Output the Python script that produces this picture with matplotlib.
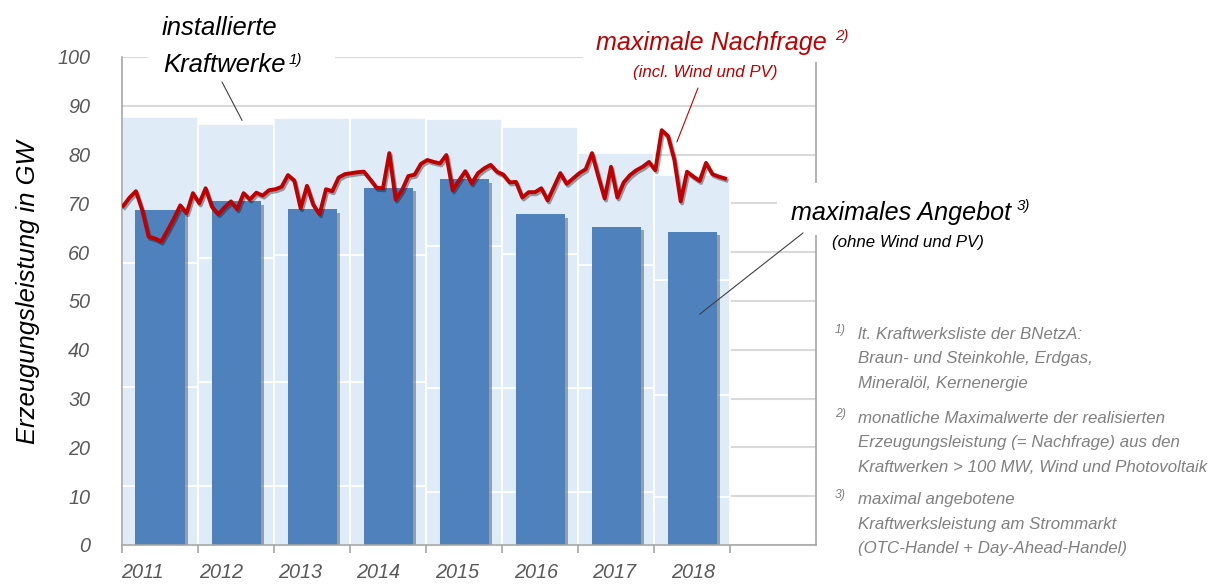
import numpy as np
import matplotlib
matplotlib.use('Agg')
import matplotlib.pyplot as plt
import matplotlib.patheffects as pe
from matplotlib import font_manager
from matplotlib.patches import Rectangle, ConnectionPatch

# Daten (GW)
jahre = ['2011', '2012', '2013', '2014', '2015', '2016', '2017', '2018']

# installierte Kraftwerke, gestapelt
kernenergie = [12.1, 12.1, 12.1, 12.1, 10.9, 10.9, 10.9, 9.8]
braunkohle = [20.3, 21.4, 21.4, 21.2, 21.3, 21.2, 21.2, 20.9]
steinkohle = [25.3, 25.4, 25.9, 26.2, 29.1, 27.5, 25.3, 23.6]
erdgas_oel = [30.1, 27.4, 28.0, 28.0, 26.0, 26.1, 23.0, 21.5]

# maximales Angebot (ohne Wind und PV)
angebot = [68.6, 70.4, 68.8, 73.2, 74.9, 67.8, 65.2, 64.2]

# maximale Nachfrage je Monat (incl. Wind und PV)
nachfrage = [
    69.5, 71.2, 72.5, 68.6, 63.2, 62.8, 62.2, 64.5, 66.9, 69.6, 68.0, 72.1,
    70.0, 73.1, 69.3, 67.8, 69.2, 70.4, 68.8, 72.1, 70.8, 72.2, 71.6, 72.7,
    72.9, 73.4, 75.8, 74.7, 69.0, 73.6, 69.7, 67.8, 72.9, 72.5, 75.3, 76.0,
    76.2, 76.4, 76.5, 74.9, 73.2, 73.1, 80.3, 70.8, 72.7, 75.6, 75.9, 78.1,
    78.9, 78.5, 78.2, 79.9, 72.7, 74.7, 76.6, 74.1, 76.2, 77.2, 77.9, 76.5,
    75.9, 74.3, 74.4, 71.2, 72.3, 72.3, 73.1, 70.6, 73.4, 76.2, 74.0, 75.1,
    76.2, 77.0, 80.3, 75.5, 71.0, 77.5, 71.2, 74.3, 75.8, 76.8, 77.5, 78.5,
    76.8, 85.0, 83.8, 78.9, 70.4, 76.5, 75.5, 74.6, 78.3, 76.0, 75.5, 75.1,
]

W, H = 1214, 585

# schmale Schrift wenn vorhanden
namen = {f.name for f in font_manager.fontManager.ttflist}
if 'Liberation Sans Narrow' in namen:
    schrift, k = 'Liberation Sans Narrow', 1.0
else:
    schrift, k = 'Liberation Sans', 0.84
plt.rcParams['font.family'] = [schrift, 'DejaVu Sans']
plt.rcParams['font.style'] = 'italic'

GRAU = '#a6a6a6'
TXT = '#595959'
ROT = '#c00000'


def px(x, y):
    return x / W, 1 - y / H


fig = plt.figure(figsize=(W / 100, H / 100), dpi=100)
ax = fig.add_axes([122 / W, 40 / H, 694 / W, 488 / H])

x = np.arange(len(jahre)) + 0.5
unten = np.zeros(len(jahre))
for seg in [kernenergie, braunkohle, steinkohle, erdgas_oel]:
    ax.bar(x, seg, 1.0, bottom=unten, color='#dfebf6', edgecolor='white',
           linewidth=1.2, zorder=1)
    unten += np.array(seg)

balken = ax.bar(x, angebot, 0.645, color='#4f81bd', zorder=2)
for b in balken:
    b.set_path_effects([pe.SimplePatchShadow(offset=(2.5, -2.5), shadow_rgbFace='#404040', alpha=0.45),
                        pe.Normal()])

monate = (np.arange(len(nachfrage)) + 0.2) / 12
ax.plot(monate, nachfrage, color=ROT, lw=2.8, zorder=3, solid_joinstyle='round',
        path_effects=[pe.SimpleLineShadow(offset=(1, -1.5), alpha=0.35), pe.Normal()])

ax.set_xlim(0, 9.13)
ax.set_ylim(0, 100)
ax.set_yticks(range(0, 101, 10))
ax.yaxis.grid(True, color='#d9d9d9', lw=1.5)
ax.set_axisbelow(True)
ax.tick_params(axis='y', length=0, pad=23, labelsize=17 * k, labelcolor=TXT)

ax.set_xticks(np.arange(0, 9))
ax.set_xticklabels([])
ax.tick_params(axis='x', which='major', length=6, color=GRAU, width=1.2)
ax.set_xticks(np.arange(len(jahre)) * 1.035 + 0.27, minor=True)
ax.set_xticklabels(jahre, minor=True)
ax.tick_params(axis='x', which='minor', length=0, pad=13, labelsize=17 * k, labelcolor=TXT)

ax.spines['top'].set_visible(False)
for s in ['left', 'bottom', 'right']:
    ax.spines[s].set_color(GRAU)
    ax.spines[s].set_linewidth(1.2)

fig.text(*px(28, 292), 'Erzeugungsleistung in GW', rotation=90, ha='center', va='center',
         fontsize=22 * k, color='black')

# weisse Flaechen hinter den Beschriftungen
for (x0, y0, x1, y1) in [(148, 0, 335, 92), (583, 0, 840, 62), (777, 183, 1045, 235)]:
    fig.patches.append(Rectangle(px(x0, y1), (x1 - x0) / W, (y1 - y0) / H,
                                 transform=fig.transFigure, fc='white', ec='none', zorder=2))

# Beschriftungen
fig.text(*px(162, 35), 'installierte', fontsize=22 * k, va='baseline', zorder=5)
fig.text(*px(163, 72), 'Kraftwerke', fontsize=22 * k, va='baseline', zorder=5)
fig.text(*px(289, 64), '1)', fontsize=13 * k, va='baseline', zorder=5)

fig.text(*px(596, 50), 'maximale Nachfrage', fontsize=21.5 * k, color=ROT, va='baseline', zorder=5)
fig.text(*px(835, 40), '2)', fontsize=13 * k, color=ROT, va='baseline', zorder=5)
fig.text(*px(705, 77), '(incl. Wind und PV)', fontsize=14.5 * k, color=ROT, ha='center',
         va='baseline', zorder=5)

fig.text(*px(791, 220), 'maximales Angebot', fontsize=21.5 * k, va='baseline', zorder=5)
fig.text(*px(1017, 210), '3)', fontsize=13 * k, va='baseline', zorder=5)
fig.text(*px(908, 247), '(ohne Wind und PV)', fontsize=14.5 * k, ha='center', va='baseline', zorder=5)

# Hinweislinien
for start, ziel, farbe in [((222, 82), (1.58, 87.0), '#404040'),
                           ((698, 88), (7.30, 82.6), ROT),
                           ((803, 233), (7.60, 47.3), '#404040')]:
    cp = ConnectionPatch(xyA=(start[0], H - start[1]), coordsA='figure pixels',
                         xyB=ziel, coordsB=ax.transData, color=farbe, lw=0.8, zorder=6)
    fig.add_artist(cp)

# Fussnoten
fussnoten = [
    ('1)', ['lt. Kraftwerksliste der BNetzA:', 'Braun- und Steinkohle, Erdgas,',
            'Mineralöl, Kernenergie'], 339),
    ('2)', ['monatliche Maximalwerte der realisierten', 'Erzeugungsleistung (= Nachfrage) aus den',
            'Kraftwerken > 100 MW, Wind und Photovoltaik'], 423),
    ('3)', ['maximal angebotene', 'Kraftwerksleistung am Strommarkt',
            '(OTC-Handel + Day-Ahead-Handel)'], 504),
]
for nr, zeilen, y0 in fussnoten:
    fig.text(*px(835, y0 - 6), nr, fontsize=10.5 * k, color='#808080', va='baseline')
    for i, z in enumerate(zeilen):
        fig.text(*px(858, y0 + i * 24.5), z, fontsize=14.5 * k, color='#808080', va='baseline')

fig.savefig('out.png', dpi=100)
